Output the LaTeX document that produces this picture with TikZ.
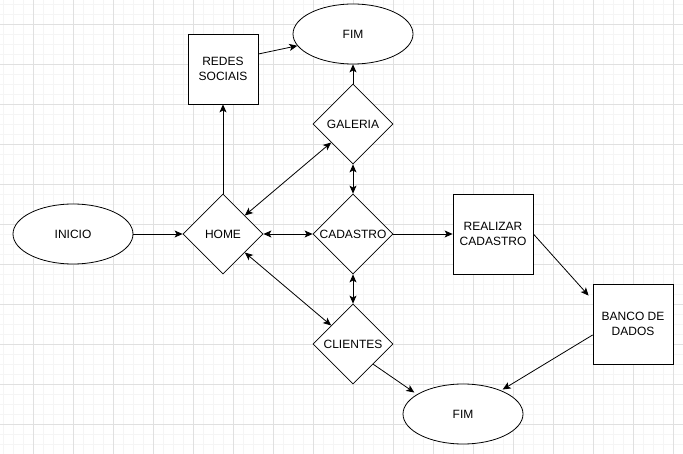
\documentclass[tikz,border=0pt]{standalone}
\usepackage{fontspec}
\setmainfont{Liberation Sans}
\usetikzlibrary{shapes.geometric,arrows.meta}
\definecolor{minorgrid}{RGB}{245,245,245}
\definecolor{majorgrid}{RGB}{224,224,224}
\tikzset{
  base/.style={draw=black, line width=0.8pt, fill=white, inner sep=0pt, align=center,
    font=\fontsize{12}{15}\selectfont},
  oval/.style={base, ellipse, minimum width=120pt, minimum height=60pt},
  losango/.style={base, diamond, minimum width=80pt, minimum height=80pt},
  caixa/.style={base, rectangle, minimum width=80pt, minimum height=80pt},
  seta/.style={draw=black, line width=0.8pt, -{Stealth[length=8pt,width=7pt,inset=2pt]}},
  seta2/.style={draw=black, line width=0.8pt, {Stealth[length=8pt,width=7pt,inset=2pt]}-{Stealth[length=8pt,width=7pt,inset=2pt]}},
  linha/.style={draw=black, line width=0.8pt}
}
\begin{document}
\begin{tikzpicture}[x=1pt,y=-1pt]
\useasboundingbox (0,0) rectangle (683,454);
\fill[white] (0,0) rectangle (683,454);
% grid
\foreach \x in {3,13,...,683} \draw[minorgrid, line width=0.8pt] (\x,0) -- (\x,454);
\foreach \y in {4,14,...,454} \draw[minorgrid, line width=0.8pt] (0,\y) -- (683,\y);
\foreach \x in {33,73,...,683} \draw[majorgrid, line width=0.8pt] (\x,0) -- (\x,454);
\foreach \y in {24,64,...,454} \draw[majorgrid, line width=0.8pt] (0,\y) -- (683,\y);
% nodes
\node[oval] (inicio) at (73,234) {INICIO};
\node[losango] (home) at (223,234) {HOME};
\node[losango] (cadastro) at (353,234) {CADASTRO};
\node[losango] (galeria) at (353,124) {GALERIA};
\node[losango] (clientes) at (353,344) {CLIENTES};
\node[oval] (fim1) at (353,34) {FIM};
\node[oval] (fim2) at (463,414) {FIM};
\node[caixa, minimum width=70pt, minimum height=70pt] (redes) at (223,69) {REDES\\SOCIAIS};
\node[caixa] (realizar) at (493,234) {REALIZAR\\CADASTRO};
\node[caixa] (banco) at (633,324) {BANCO DE\\DADOS};
% connectors
\draw[seta] (inicio) -- (home);
\draw[seta] (home) -- (redes);
\draw[seta] ([yshift=15pt]redes.east) -- (fim1);
\draw[seta] (galeria) -- (fim1);
\draw[seta2] (galeria) -- (cadastro);
\draw[seta2] (home) -- (galeria);
\draw[seta2] (home) -- (cadastro);
\draw[seta2] (home) -- (clientes);
\draw[seta2] (cadastro) -- (clientes);
\draw[seta] (cadastro) -- (realizar);
\draw[seta] (realizar.east) -- ([shift={(-4pt,-12pt)}]banco.north west);
\draw[seta] ([yshift=-11pt]banco.west) -- ([shift={(-3pt,3pt)}]fim2.north east);
\draw[seta] (clientes.south east) -- ([xshift=-6pt]fim2.north west);
\end{tikzpicture}
\end{document}
